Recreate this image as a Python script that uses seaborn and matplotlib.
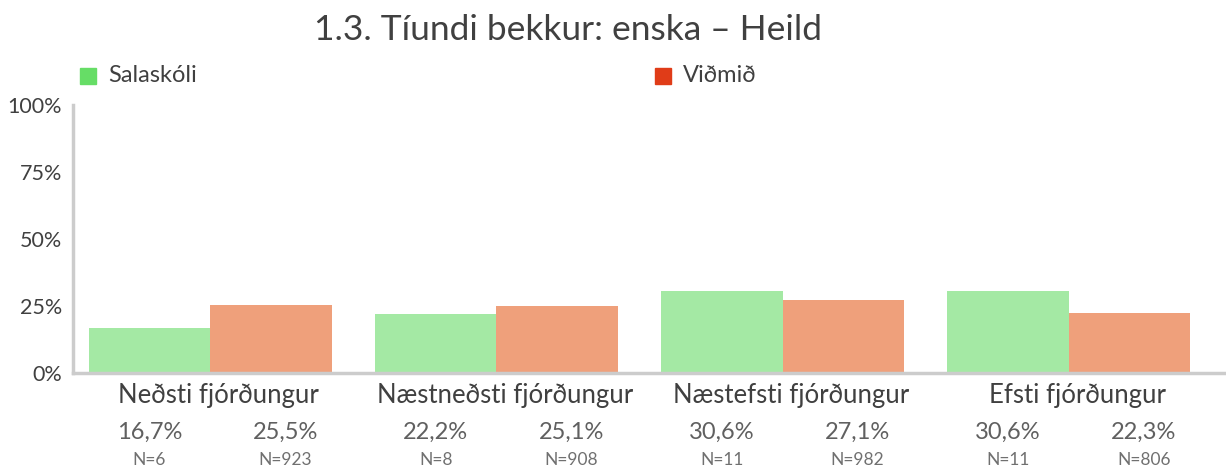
import numpy as np
import pandas as pd
import matplotlib
matplotlib.use("Agg")
import matplotlib.pyplot as plt
from matplotlib.patches import Rectangle
import seaborn as sns

# Data
categories = ["Neðsti fjórðungur", "Næstneðsti fjórðungur", "Næstefsti fjórðungur", "Efsti fjórðungur"]
school_pct = [16.7, 22.2, 30.6, 30.6]
norm_pct = [25.5, 25.1, 27.1, 22.3]
school_n = [6, 8, 11, 11]
norm_n = [923, 908, 982, 806]
series = ["Salaskóli", "Viðmið"]
yticks = [0, 25, 50, 75, 100]

bar_colors = ["#a4e9a4", "#efa07b"]
legend_colors = ["#66dd66", "#e03c18"]

df = pd.DataFrame({
    "flokkur": categories * 2,
    "hópur": [series[0]] * 4 + [series[1]] * 4,
    "hlutfall": school_pct + norm_pct,
})

sns.set_style("white")
plt.rcParams["font.family"] = ["Lato", "DejaVu Sans"]

fig = plt.figure(figsize=(12.26, 4.70), dpi=100)
ax = fig.add_axes([73 / 1226, 1 - 373 / 470, 1 - 73 / 1226, (373 - 105) / 470])

sns.barplot(data=df, x="flokkur", y="hlutfall", hue="hópur", palette=bar_colors,
            width=0.85, saturation=1, linewidth=0, legend=False, ax=ax)

ax.set_xlim(-0.48, 3.55)
ax.set_ylim(0, 100)
ax.set_yticks(yticks)
ax.set_yticklabels([f"{t}%" for t in yticks], fontsize=15.5, color="#404040")
ax.tick_params(axis="y", length=5, width=1, color="#777777", pad=3)
ax.set_xticks([])
ax.set_xlabel("")
ax.set_ylabel("")
for side in ["top", "right"]:
    ax.spines[side].set_visible(False)
for side in ["left", "bottom"]:
    ax.spines[side].set_color("#cccccc")
    ax.spines[side].set_linewidth(2.5)

# labels under the axis
trans = ax.get_xaxis_transform()
half = 0.85 / 4
for i, cat in enumerate(categories):
    ax.text(i + 0.03, -0.085, cat, transform=trans, ha="center", va="center",
            fontsize=18.5, color="#404040")
    ax.text(i - half, -0.22, f"{school_pct[i]:.1f}%".replace(".", ","), transform=trans,
            ha="center", va="center", fontsize=17, color="#606060")
    ax.text(i + half + 0.05, -0.22, f"{norm_pct[i]:.1f}%".replace(".", ","), transform=trans,
            ha="center", va="center", fontsize=17, color="#606060")
    ax.text(i - half, -0.325, f"N={school_n[i]}", transform=trans,
            ha="center", va="center", fontsize=12.5, color="#707070")
    ax.text(i + half + 0.05, -0.325, f"N={norm_n[i]}", transform=trans,
            ha="center", va="center", fontsize=12.5, color="#707070")

# title
fig.text(568 / 1226, 1 - 30 / 470, "1.3. Tíundi bekkur: enska – Heild",
         ha="center", va="center", fontsize=25.5, color="#404040")

# legend
for x0, col, name in [(80, legend_colors[0], series[0]), (655, legend_colors[1], series[1])]:
    fig.add_artist(Rectangle((x0 / 1226, 1 - 84 / 470), 16 / 1226, 16 / 470,
                             transform=fig.transFigure, color=col))
    fig.text((x0 + 28) / 1226, 1 - 76 / 470, name, ha="left", va="center",
             fontsize=17, color="#404040")

fig.savefig("out.png", dpi=100)
